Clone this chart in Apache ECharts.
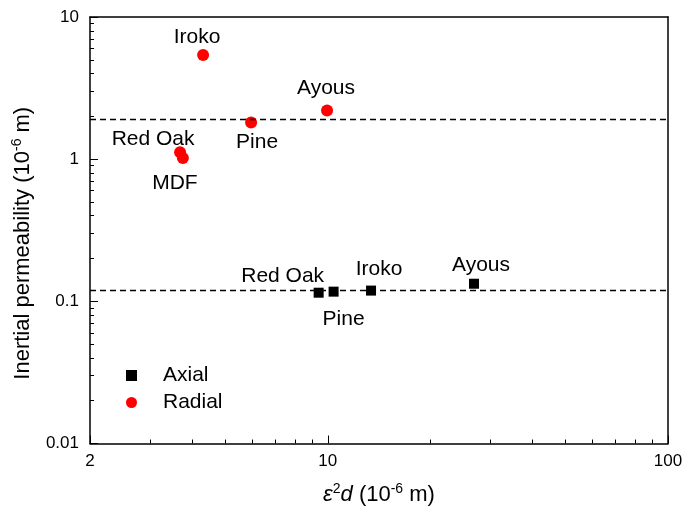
<!DOCTYPE html>
<html>
<head>
<meta charset="utf-8">
<script src="https://cdn.jsdelivr.net/npm/echarts@6/dist/echarts.min.js"></script>
<style>
  html, body { margin: 0; padding: 0; background: #fff; }
  #main { width: 686px; height: 511px; }
</style>
</head>
<body>
<div id="main"></div>
<script>
// data
const axialNames = ['Red Oak', 'Pine', 'Iroko', 'Ayous'];
const axialX = [9.4, 10.4, 13.4, 26.9];
const axialY = [0.115, 0.117, 0.119, 0.133];

const radialNames = ['Iroko', 'Pine', 'Ayous', 'Red Oak', 'MDF'];
const radialX = [4.3, 5.95, 9.95, 3.68, 3.75];
const radialY = [5.4, 1.81, 2.2, 1.12, 1.02];

const radialMean = 1.9;
const axialMean = 0.12;

const xMajor = [2, 10, 100];
const xMinor = [3, 4, 5, 6, 7, 8, 9, 20, 30, 40, 50, 60, 70, 80, 90];
const yMajor = [0.01, 0.1, 1, 10];
const yMinor = [0.02, 0.03, 0.04, 0.05, 0.06, 0.07, 0.08, 0.09,
  0.2, 0.3, 0.4, 0.5, 0.6, 0.7, 0.8, 0.9, 2, 3, 4, 5, 6, 7, 8, 9];

// label offsets from the point centre (layout only)
const axialLabelOffset = [[-36, -17], [10, 28], [8, -21], [7, -19]];
const radialLabelOffset = [[-6, -18], [6, 20], [-1, -22], [-27, -13], [-8, 25]];

const font = 'Liberation Sans, Arial, sans-serif';
const black = '#000';

function points(xs, ys, names, offs) {
  return xs.map((x, i) => ({
    name: names[i],
    value: [x, ys[i]],
    label: { show: true, formatter: '{b}', position: 'inside', offset: offs[i] }
  }));
}

function titleRich(size, sup) {
  return {
    t: { fontSize: size, color: black, fontFamily: font },
    i: { fontSize: size, color: black, fontFamily: font, fontStyle: 'italic' },
    s: { fontSize: sup, color: black, fontFamily: font, padding: [0, 0, 11, 0] }
  };
}

const chart = echarts.init(document.getElementById('main'));

const baseLog = { type: 'log', logBase: 10, splitLine: { show: false } };

chart.setOption({
  animation: false,
  backgroundColor: '#fff',
  textStyle: { fontFamily: font },
  grid: { left: 90, right: 18, top: 17, bottom: 65 },
  legend: {
    orient: 'vertical',
    left: 121,
    top: 360,
    itemGap: 6,
    itemWidth: 11,
    itemHeight: 11,
    textStyle: { fontSize: 21, color: black, fontFamily: font, padding: [0, 0, 0, 21] },
    data: ['Axial', 'Radial']
  },
  xAxis: [
    Object.assign({}, baseLog, {
      min: 2, max: 100, position: 'bottom',
      axisLine: { show: true, lineStyle: { color: black, width: 1.5 } },
      axisTick: { show: true, inside: true, length: 8, customValues: xMajor, lineStyle: { color: black } },
      axisLabel: { customValues: xMajor, color: black, fontSize: 17, margin: 9, fontFamily: font },
      name: '{i|ε}{s|2}{i|d}{t| (10}{s|-6}{t| m)}',
      nameLocation: 'middle',
      nameGap: 39,
      nameTextStyle: { rich: titleRich(22, 14) }
    }),
    Object.assign({}, baseLog, {
      min: 2, max: 100, position: 'bottom',
      axisLine: { show: false },
      axisTick: { show: true, inside: true, length: 4, customValues: xMinor, lineStyle: { color: black } },
      axisLabel: { show: false }
    }),
    Object.assign({}, baseLog, {
      min: 2, max: 100, position: 'top',
      axisLine: { show: true, lineStyle: { color: black, width: 1.5 } },
      axisTick: { show: false },
      axisLabel: { show: false }
    })
  ],
  yAxis: [
    Object.assign({}, baseLog, {
      min: 0.01, max: 10, position: 'left',
      axisLine: { show: true, lineStyle: { color: black, width: 1.5 } },
      axisTick: { show: true, inside: true, length: 8, customValues: yMajor, lineStyle: { color: black } },
      axisLabel: { customValues: yMajor, color: black, fontSize: 17, margin: 11, fontFamily: font,
        formatter: v => String(v) },
      name: '{t|Inertial permeability (10}{s|-6}{t| m)}',
      nameLocation: 'middle',
      nameRotate: 90,
      nameGap: 55,
      nameTextStyle: { rich: titleRich(22, 14), padding: [0, 26, 0, 0] }
    }),
    Object.assign({}, baseLog, {
      min: 0.01, max: 10, position: 'left',
      axisLine: { show: false },
      axisTick: { show: true, inside: true, length: 4, customValues: yMinor, lineStyle: { color: black } },
      axisLabel: { show: false }
    }),
    Object.assign({}, baseLog, {
      min: 0.01, max: 10, position: 'right',
      axisLine: { show: true, lineStyle: { color: black, width: 1.5 } },
      axisTick: { show: false },
      axisLabel: { show: false }
    })
  ],
  series: [
    {
      name: 'Axial',
      type: 'scatter',
      symbol: 'rect',
      symbolSize: 10,
      itemStyle: { color: black, opacity: 1 },
      label: { color: black, fontSize: 21, fontFamily: font },
      emphasis: { disabled: true },
      data: points(axialX, axialY, axialNames, axialLabelOffset),
      markLine: {
        silent: true,
        symbol: 'none',
        label: { show: false },
        lineStyle: { color: black, type: [6, 4], width: 1.3 },
        data: [{ yAxis: axialMean }]
      },
      z: 3
    },
    {
      name: 'Radial',
      type: 'scatter',
      symbol: 'circle',
      symbolSize: 12,
      itemStyle: { color: '#ff0000', opacity: 1 },
      label: { color: black, fontSize: 21, fontFamily: font },
      emphasis: { disabled: true },
      data: points(radialX, radialY, radialNames, radialLabelOffset),
      markLine: {
        silent: true,
        symbol: 'none',
        label: { show: false },
        lineStyle: { color: black, type: [6, 4], width: 1.3 },
        data: [{ yAxis: radialMean }]
      },
      z: 3
    }
  ]
});
</script>
</body>
</html>
